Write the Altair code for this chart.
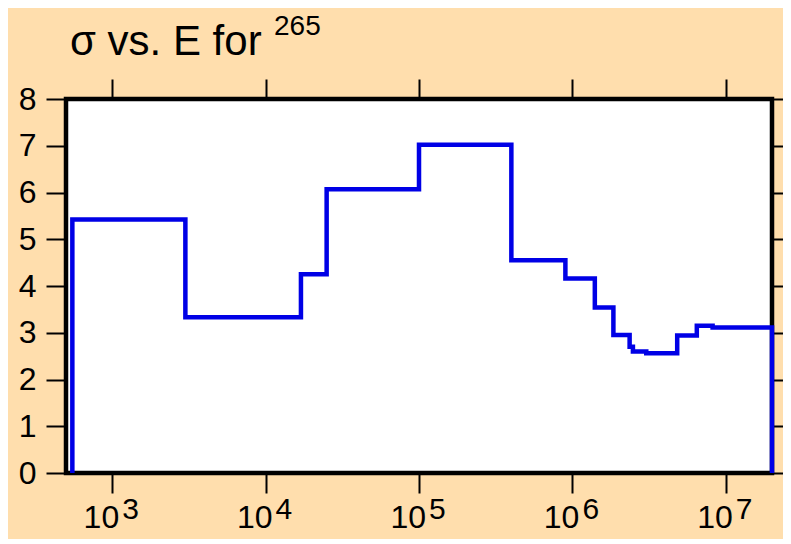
import altair as alt
import pandas as pd

# ---- data ----
title_text = "σ vs. E for"
title_sup = "265"
# bin edges (energy) and cross-section value held from each edge to the next
energy_edges = [550, 3000, 17000, 25000, 1.0e5, 4.0e5, 9.0e5, 1.40e6, 1.85e6,
                2.36e6, 2.48e6, 3.03e6, 4.82e6, 6.47e6, 8.2e6, 2.0e7]
sigma_vals = [5.42, 3.33, 4.25, 6.07, 7.02, 4.55, 4.16, 3.54, 2.95,
              2.70, 2.60, 2.56, 2.94, 3.15, 3.11]
x_ticks = [1e3, 1e4, 1e5, 1e6, 1e7]
x_bases = ["10", "10", "10", "10", "10"]
x_exponents = ["3", "4", "5", "6", "7"]
y_ticks = [0, 1, 2, 3, 4, 5, 6, 7, 8]
x_domain = [500, 2.0e7]
y_domain = [0, 8]

# ---- build step table ----
xs = [energy_edges[0]] + energy_edges[:-1] + [energy_edges[-1], energy_edges[-1]]
ys = [0] + sigma_vals + [sigma_vals[-1], 0]
df = pd.DataFrame({"E": xs, "sigma": ys, "idx": list(range(len(xs)))})
ticks_df = pd.DataFrame({"E": x_ticks, "base": x_bases, "exp": x_exponents})
title_df = pd.DataFrame({"t": [title_text]})
sup_df = pd.DataFrame({"t": [title_sup]})

FONT = "Liberation Sans"
BG = "#FFDEAD"
xscale = alt.Scale(type="log", domain=x_domain, nice=False)
yscale = alt.Scale(domain=y_domain, nice=False)

main = alt.Chart(df).mark_line(
    interpolate="step-after", color="#0000E6", strokeWidth=4.5
).encode(
    x=alt.X("E:Q", scale=xscale, axis=alt.Axis(
        orient="bottom", values=x_ticks, title=None, domain=False, grid=False,
        labels=False, tickSize=20, tickWidth=2, tickColor="black")),
    y=alt.Y("sigma:Q", scale=yscale, axis=alt.Axis(
        orient="left", values=y_ticks, title=None, domain=False, grid=False,
        tickSize=20, tickWidth=2, tickColor="black",
        labelPadding=10, labelFont=FONT, labelFontSize=32, labelColor="black")),
    order=alt.Order("idx:Q"),
)

frame_axes = alt.Chart(df).mark_line(opacity=0).encode(
    x=alt.X("E:Q", scale=xscale, axis=alt.Axis(
        orient="top", values=x_ticks, title=None, domain=False, grid=False,
        labels=False, tickSize=20, tickWidth=2, tickColor="black")),
    y=alt.Y("sigma:Q", scale=yscale, axis=alt.Axis(
        orient="right", values=y_ticks, title=None, domain=False, grid=False,
        labels=False, tickSize=18, tickWidth=2, tickColor="black")),
    order=alt.Order("idx:Q"),
)

bases = alt.Chart(ticks_df).mark_text(
    align="right", baseline="alphabetic", dx=7, font=FONT, fontSize=32, color="black"
).encode(
    x=alt.X("E:Q", scale=xscale, axis=None),
    y=alt.value(429),
    text="base:N",
)

exps = alt.Chart(ticks_df).mark_text(
    align="left", baseline="alphabetic", dx=10, font=FONT, fontSize=30, color="black"
).encode(
    x=alt.X("E:Q", scale=xscale, axis=None),
    y=alt.value(420),
    text="exp:N",
)

title = alt.Chart(title_df).mark_text(
    align="left", baseline="alphabetic", font=FONT, fontSize=42, color="black"
).encode(x=alt.value(4), y=alt.value(-44), text="t:N")

sup = alt.Chart(sup_df).mark_text(
    align="left", baseline="alphabetic", font=FONT, fontSize=28, color="black"
).encode(x=alt.value(208), y=alt.value(-64), text="t:N")

chart = alt.layer(main, frame_axes, bases, exps, title, sup).resolve_axis(
    x="independent", y="independent"
).properties(
    width=706, height=374, background=BG,
    padding={"left": 58, "top": 91, "right": 11, "bottom": 66},
    autosize=alt.AutoSizeParams(type="none"),
).configure_view(fill="white", stroke="black", strokeWidth=4.5)

chart.save("out.html", embed_options={"renderer": "svg", "actions": False})
